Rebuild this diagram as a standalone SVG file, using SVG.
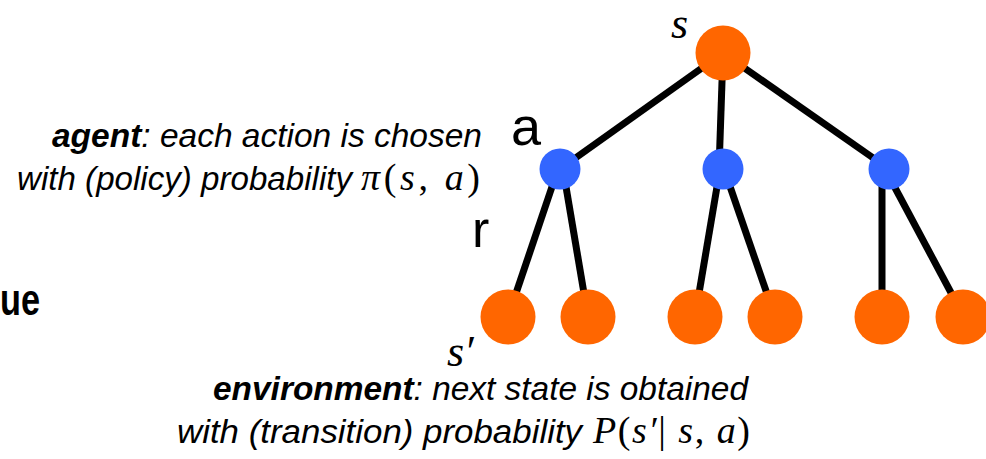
<svg xmlns="http://www.w3.org/2000/svg" width="986" height="459" viewBox="0 0 986 459">
<style>
.edge{stroke:#000;stroke-width:7;fill:none}
.state{fill:#FF6600}
.action{fill:#3366FF}
.desc{font-family:"Liberation Sans",Arial,sans-serif;font-style:italic;font-size:34px;fill:#000}
.math{font-family:"Liberation Serif","DejaVu Serif",serif;font-style:italic;fill:#000}
.lbl{font-family:"Liberation Sans",Arial,sans-serif;fill:#000}
</style>
<rect width="986" height="459" fill="#fff"/>
<g id="connectors">
<line class="edge" x1="723" y1="53" x2="560" y2="169"/>
<line class="edge" x1="723" y1="53" x2="719" y2="169"/>
<line class="edge" x1="723" y1="53" x2="889" y2="169"/>
<line class="edge" x1="558" y1="169" x2="508" y2="317"/>
<line class="edge" x1="563" y1="169" x2="588" y2="317"/>
<line class="edge" x1="720" y1="169" x2="695" y2="317"/>
<line class="edge" x1="724" y1="169" x2="775" y2="317"/>
<line class="edge" x1="882" y1="169" x2="882" y2="317"/>
<line class="edge" x1="885" y1="169" x2="964" y2="317"/>
</g>
<g id="root"><circle class="state" cx="723" cy="53" r="27.5"/></g>
<g id="a1"><circle class="action" cx="560" cy="169" r="20.5"/></g>
<g id="a2"><circle class="action" cx="723" cy="169" r="20.5"/></g>
<g id="a3"><circle class="action" cx="889" cy="169" r="20.5"/></g>
<g id="s1"><circle class="state" cx="508" cy="317" r="27.5"/></g>
<g id="s2"><circle class="state" cx="588" cy="317" r="27.5"/></g>
<g id="s3"><circle class="state" cx="695" cy="317" r="27.5"/></g>
<g id="s4"><circle class="state" cx="775" cy="317" r="27.5"/></g>
<g id="s5"><circle class="state" cx="882" cy="317" r="27.5"/></g>
<g id="s6"><circle class="state" cx="963" cy="317" r="27.5"/></g>
<g id="labels">
<text class="math" x="671" y="38" font-size="44">s</text>
<text class="lbl" x="511" y="145" font-size="54">a</text>
<text class="lbl" x="472" y="247" font-size="52">r</text>
<text class="math" x="447" y="366" font-size="44">s′</text>
<text class="lbl" x="40" y="315" font-size="44" font-weight="bold" text-anchor="end" textLength="40" lengthAdjust="spacingAndGlyphs">ue</text>
</g>
<g id="agent-text">
<text class="desc" x="52" y="147" textLength="430" lengthAdjust="spacingAndGlyphs"><tspan font-weight="bold">agent</tspan>: each action is chosen</text>
<text class="desc" x="17" y="190" textLength="335" lengthAdjust="spacingAndGlyphs">with (policy) probability</text>
<text class="math" x="361" y="190" font-size="38" textLength="119" lengthAdjust="spacing">π<tspan font-style="normal">(</tspan>s<tspan font-style="normal">, </tspan>a<tspan font-style="normal">)</tspan></text>
</g>
<g id="env-text">
<text class="desc" x="213" y="400" textLength="535" lengthAdjust="spacingAndGlyphs"><tspan font-weight="bold">environment</tspan>: next state is obtained</text>
<text class="desc" x="177" y="443" textLength="405" lengthAdjust="spacingAndGlyphs">with (transition) probability</text>
<text class="math" x="593" y="443" font-size="38" textLength="157" lengthAdjust="spacing">P<tspan font-style="normal">(</tspan>s′<tspan font-style="normal">| </tspan>s<tspan font-style="normal">, </tspan>a<tspan font-style="normal">)</tspan></text>
</g>
</svg>
